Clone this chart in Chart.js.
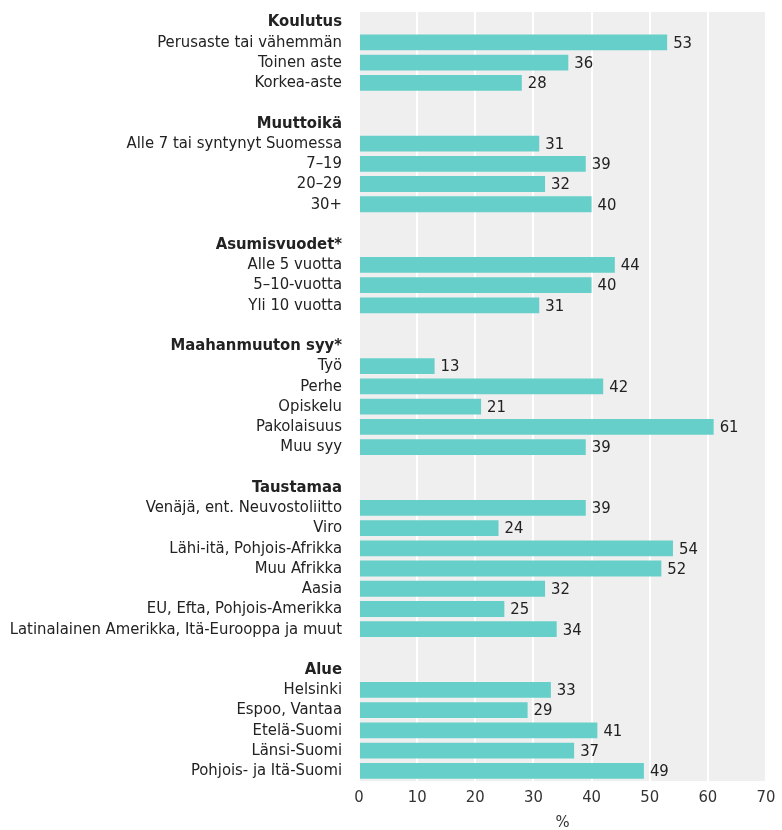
<!DOCTYPE html>
<html>
<head>
<meta charset="utf-8">
<script src="https://cdn.jsdelivr.net/npm/chart.js@4"></script>
<style>
  html, body { margin: 0; padding: 0; background: #ffffff; }
  #wrap { width: 782px; height: 830px; position: relative; }
</style>
</head>
<body>
<div id="wrap"><canvas id="c"></canvas></div>
<script>
// ---- Data ----
const groupTitles = ["Koulutus", "Muuttoikä", "Asumisvuodet*", "Maahanmuuton syy*", "Taustamaa", "Alue"];

const koulutusLabels = ["Perusaste tai vähemmän", "Toinen aste", "Korkea-aste"];
const koulutusValues = [53, 36, 28];

const muuttoikaLabels = ["Alle 7 tai syntynyt Suomessa", "7–19", "20–29", "30+"];
const muuttoikaValues = [31, 39, 32, 40];

const asumisLabels = ["Alle 5 vuotta", "5–10-vuotta", "Yli 10 vuotta"];
const asumisValues = [44, 40, 31];

const syyLabels = ["Työ", "Perhe", "Opiskelu", "Pakolaisuus", "Muu syy"];
const syyValues = [13, 42, 21, 61, 39];

const taustamaaLabels = ["Venäjä, ent. Neuvostoliitto", "Viro", "Lähi-itä, Pohjois-Afrikka", "Muu Afrikka", "Aasia", "EU, Efta, Pohjois-Amerikka", "Latinalainen Amerikka, Itä-Eurooppa ja muut"];
const taustamaaValues = [39, 24, 54, 52, 32, 25, 34];

const alueLabels = ["Helsinki", "Espoo, Vantaa", "Etelä-Suomi", "Länsi-Suomi", "Pohjois- ja Itä-Suomi"];
const alueValues = [33, 29, 41, 37, 49];

const xTicks = [0, 10, 20, 30, 40, 50, 60, 70];
const xTitle = "%";

// ---- Build rows ----
const groups = [
  [koulutusLabels, koulutusValues],
  [muuttoikaLabels, muuttoikaValues],
  [asumisLabels, asumisValues],
  [syyLabels, syyValues],
  [taustamaaLabels, taustamaaValues],
  [alueLabels, alueValues]
];
const labels = [], values = [], isHeader = [];
groups.forEach((g, gi) => {
  if (gi > 0) { labels.push(""); values.push(null); isHeader.push(false); }
  labels.push(groupTitles[gi]); values.push(null); isHeader.push(true);
  g[0].forEach((l, i) => { labels.push(l); values.push(g[1][i]); isHeader.push(false); });
});

const FONT = "'DejaVu Sans Condensed', 'Liberation Sans Narrow', sans-serif";
const FS = 16.5;

const bgPlugin = {
  id: 'bg',
  beforeDraw(chart) {
    const {ctx, chartArea: a} = chart;
    ctx.save();
    ctx.fillStyle = '#efefef';
    ctx.fillRect(a.left, a.top, a.right - a.left, a.bottom - a.top);
    ctx.restore();
  }
};

const valuePlugin = {
  id: 'vals',
  afterDatasetsDraw(chart) {
    const {ctx} = chart;
    const meta = chart.getDatasetMeta(0);
    ctx.save();
    ctx.font = FS + "px " + FONT;
    ctx.fillStyle = '#222';
    ctx.textAlign = 'left';
    ctx.textBaseline = 'middle';
    meta.data.forEach((bar, i) => {
      const v = values[i];
      if (v === null) return;
      ctx.fillText(String(v), bar.x + 6, bar.y + 1);
    });
    ctx.restore();
  }
};

new Chart(document.getElementById('c'), {
  type: 'bar',
  data: {
    labels: labels,
    datasets: [{
      data: values,
      backgroundColor: '#66cfca',
      borderWidth: 0,
      barPercentage: 0.78,
      categoryPercentage: 1.0
    }]
  },
  options: {
    indexAxis: 'y',
    responsive: true,
    maintainAspectRatio: false,
    animation: false,
    layout: { padding: { top: 12, right: 16, left: 0, bottom: 0 } },
    plugins: { legend: { display: false }, tooltip: { enabled: false } },
    scales: {
      x: {
        min: 0, max: 70,
        afterBuildTicks(scale) { scale.ticks = xTicks.map(v => ({value: v})); },
        afterFit(scale) { scale.height = 49; scale.paddingLeft = 0; scale.paddingRight = 0; },
        grid: { color: '#ffffff', lineWidth: 2, drawTicks: false },
        border: { display: false },
        ticks: { color: '#333', font: { family: FONT, size: FS }, padding: 7 },
        title: { display: true, text: xTitle, color: '#333', font: { family: FONT, size: FS }, padding: { top: 0, bottom: -3 } }
      },
      y: {
        grid: { display: false, drawTicks: false },
        border: { display: false },
        afterFit(scale) { scale.width = 359; scale.paddingTop = 0; scale.paddingBottom = 0; },
        ticks: {
          autoSkip: false,
          padding: 17,
          color: '#222',
          font: (ctx) => ({ family: FONT, size: FS, weight: isHeader[ctx.index] ? 'bold' : 'normal' })
        }
      }
    }
  },
  plugins: [bgPlugin, valuePlugin]
});
</script>
</body>
</html>
